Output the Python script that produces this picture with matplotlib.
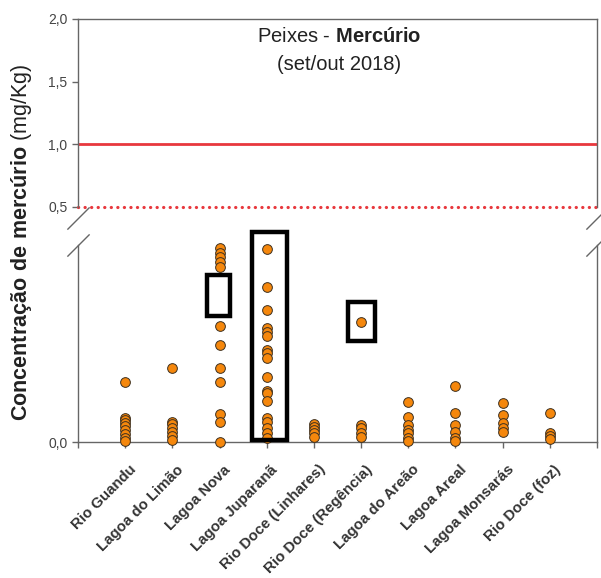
import matplotlib.pyplot as plt
import matplotlib.transforms as mtransforms
from matplotlib.patches import Rectangle

plt.rcParams['font.family'] = 'Liberation Sans'
plt.rcParams['mathtext.fontset'] = 'custom'
plt.rcParams['mathtext.rm'] = 'Liberation Sans'
plt.rcParams['mathtext.bf'] = 'Liberation Sans:bold'

# Locais de coleta (ordem do eixo x)
locais = ['Rio Guandu', 'Lagoa do Limão', 'Lagoa Nova', 'Lagoa Juparanã',
          'Rio Doce (Linhares)', 'Rio Doce (Regência)', 'Lagoa do Areão',
          'Lagoa Areal', 'Lagoa Monsarás', 'Rio Doce (foz)']

# Concentração de mercúrio por amostra (mg/Kg)
rio_guandu = [0.152, 0.062, 0.055, 0.048, 0.040, 0.030, 0.020, 0.010, 0.003]
lagoa_limao = [0.187, 0.052, 0.045, 0.036, 0.026, 0.015, 0.005]
lagoa_nova = [0.492, 0.480, 0.470, 0.457, 0.444, 0.294, 0.246, 0.187, 0.152,
              0.070, 0.050, 0.001]
lagoa_juparana = [0.489, 0.394, 0.335, 0.289, 0.280, 0.269, 0.234, 0.227,
                  0.212, 0.164, 0.130, 0.124, 0.104, 0.060, 0.052, 0.035,
                  0.022, 0.009]
rio_doce_linhares = [0.045, 0.038, 0.030, 0.022, 0.012]
rio_doce_regencia = [0.305, 0.043, 0.035, 0.022, 0.013]
lagoa_areao = [0.102, 0.064, 0.043, 0.030, 0.022, 0.009, 0.003]
lagoa_areal = [0.143, 0.073, 0.043, 0.026, 0.009, 0.003]
lagoa_monsaras = [0.100, 0.069, 0.047, 0.035, 0.026]
rio_doce_foz = [0.074, 0.024, 0.015, 0.007]

amostras = [rio_guandu, lagoa_limao, lagoa_nova, lagoa_juparana,
            rio_doce_linhares, rio_doce_regencia, lagoa_areao, lagoa_areal,
            lagoa_monsaras, rio_doce_foz]

# Limites de referência (mg/Kg)
limite_1 = 1.0
limite_05 = 0.5

W, H = 601, 578
fig = plt.figure(figsize=(W / 100, H / 100), dpi=100)

def px_box(x0, x1, y_top, y_bot):
    return [x0 / W, 1 - y_bot / H, (x1 - x0) / W, (y_bot - y_top) / H]

ax_top = fig.add_axes(px_box(78, 597, 19, 207))
ax_bot = fig.add_axes(px_box(78, 597, 245, 442))

cinza = '#666666'
laranja = '#F5870C'
vermelho = '#E8383D'

for ax in (ax_top, ax_bot):
    ax.set_xlim(0, 11)
    for s in ax.spines.values():
        s.set_color(cinza)
        s.set_linewidth(1.0)
    ax.tick_params(axis='both', colors=cinza, labelcolor='#444444',
                   labelsize=10, length=4, width=1)

# Parte superior: só os limites
ax_top.set_ylim(0.5, 2.0)
ax_top.spines['bottom'].set_visible(False)
ax_top.set_xticks([])
ax_top.set_yticks([0.5, 1.0, 1.5, 2.0])
ax_top.set_yticklabels(['0,5', '1,0', '1,5', '2,0'])
ax_top.axhline(limite_1, color=vermelho, lw=2.0)
ax_top.axhline(limite_05, color=vermelho, lw=2.3, linestyle=(0, (0.05, 2.0)),
               dash_capstyle='round', clip_on=False)

# Parte inferior: amostras
ax_bot.set_ylim(0, 0.5)
ax_bot.spines['top'].set_visible(False)
ax_bot.set_yticks([0.0])
ax_bot.set_yticklabels(['0,0'])
ax_bot.set_xticks(range(0, 12))
ax_bot.set_xticklabels([''] + locais + [''], rotation=45, ha='right',
                       rotation_mode='anchor', fontweight='bold',
                       fontsize=10.8, color='#333333')
desloc = mtransforms.ScaledTranslation(4 / 100, -10 / 100, fig.dpi_scale_trans)
for lbl in ax_bot.get_xticklabels():
    lbl.set_transform(lbl.get_transform() + desloc)

for i, valores in enumerate(amostras, start=1):
    ax_bot.plot([i] * len(valores), valores, 'o', color=laranja,
                markeredgecolor='#3d3020', markeredgewidth=0.7,
                markersize=7, clip_on=False, zorder=3)

# Caixas de destaque: (posição, largura, base, topo)
destaques = [(2.98, 0.50, 0.319, 0.425),
             (4.06, 0.73, 0.004, 0.532),
             (6.01, 0.59, 0.256, 0.355)]
for xc, larg, y0, y1 in destaques:
    ax_bot.add_patch(Rectangle((xc - larg / 2, y0), larg, y1 - y0,
                               fill=False, edgecolor='black', lw=3.2,
                               clip_on=False, zorder=4))

# Marcas de quebra do eixo
quebra = dict(marker=[(-1, -1), (1, 1)], markersize=16, linestyle='none',
              color=cinza, mec=cinza, mew=1, clip_on=False)
ax_top.plot([0, 1], [-0.06, -0.06], transform=ax_top.transAxes, **quebra)
ax_bot.plot([0, 1], [1, 1], transform=ax_bot.transAxes, **quebra)

# Título
fig.text(339 / W, 1 - 37 / H, r'Peixes - $\bf{Mercúrio}$', ha='center',
         va='center', fontsize=14.5, color='#222222')
fig.text(339 / W, 1 - 65 / H, '(set/out 2018)', ha='center', va='center',
         fontsize=14.5, color='#222222')

fig.text(22 / W, 1 - 242 / H,
         r'$\bf{Concentração\ de\ mercúrio}$ (mg/Kg)',
         rotation=90, ha='center', va='center', fontsize=15.5,
         color='#222222')

fig.savefig('out.png', dpi=100)
